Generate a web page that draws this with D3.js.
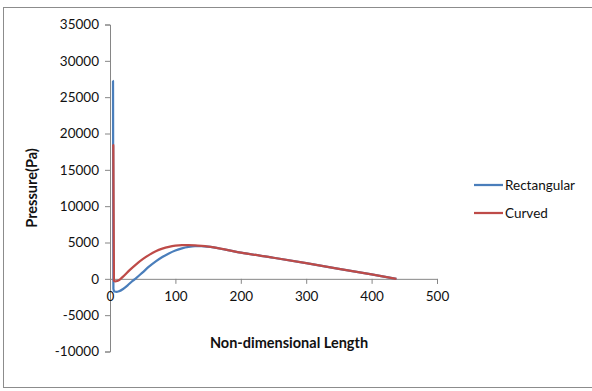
<!DOCTYPE html>
<html>
<head>
<meta charset="utf-8">
<script src="https://cdn.jsdelivr.net/npm/d3@7"></script>
<style>
  body { margin: 0; background: #fff; }
  svg text { font-family: Lato, "Open Sans", sans-serif; fill: #111; }
</style>
</head>
<body>
<div id="chart"></div>
<script>
// data
var seriesNames = ["Rectangular", "Curved"];
var seriesColors = ["#4A7EBB", "#BE4B48"];

var rectX = [4, 4.6, 5.2, 7, 10, 14, 20, 27, 33, 40, 50, 60, 70, 80, 90, 100, 110, 120, 130, 140, 150, 175, 200, 250, 300, 350, 400, 438];
var rectY = [27300, 27200, -1400, -1750, -1800, -1700, -1400, -900, -400, 100, 900, 1700, 2400, 3000, 3500, 3900, 4200, 4400, 4500, 4500, 4420, 4050, 3620, 2900, 2150, 1380, 600, 0];

var curvX = [4.5, 5.1, 6, 8, 11, 15, 20, 30, 40, 50, 60, 70, 80, 90, 100, 110, 120, 130, 140, 150, 175, 200, 250, 300, 350, 400, 438];
var curvY = [18500, 18300, -250, -350, -300, -100, 300, 1200, 2000, 2700, 3300, 3800, 4150, 4400, 4560, 4630, 4640, 4600, 4520, 4420, 4050, 3620, 2900, 2150, 1380, 600, 0];

var xTicks = [0, 100, 200, 300, 400, 500];
var yTicks = [-10000, -5000, 0, 5000, 10000, 15000, 20000, 25000, 30000, 35000];

var width = 592, height = 391;

var svg = d3.select("#chart").append("svg")
    .attr("width", width)
    .attr("height", height);

// outer frame (right side runs off the picture)
svg.append("rect")
    .attr("x", 3.5).attr("y", 7.5)
    .attr("width", 592).attr("height", 380)
    .attr("fill", "#fff")
    .attr("stroke", "#8c8c8c")
    .attr("stroke-width", 1);

var x = d3.scaleLinear().domain([0, 500]).range([110, 437]);
var y = d3.scaleLinear().domain([-10000, 35000]).range([351.5, 24.5]);

// y axis
var yAxis = d3.axisLeft(y).tickValues(yTicks).tickSize(5).tickPadding(6).tickFormat(d => String(d));
var gy = svg.append("g").attr("transform", "translate(110,0)").call(yAxis);
gy.select(".domain").attr("stroke", "#868686");
gy.selectAll(".tick line").attr("stroke", "#868686");
gy.selectAll(".tick text").style("font-size", "13.5px").attr("fill", "#111");

// x axis at y = 0
var xAxis = d3.axisBottom(x).tickValues(xTicks).tickSize(5).tickPadding(8).tickFormat(d => String(d));
var gx = svg.append("g").attr("transform", "translate(0," + y(0) + ")").call(xAxis);
gx.select(".domain").attr("stroke", "#868686");
gx.selectAll(".tick line").attr("stroke", "#868686");
gx.selectAll(".tick text").style("font-size", "13.5px").attr("fill", "#111");

// axis titles
svg.append("text")
    .attr("x", 289).attr("y", 348)
    .attr("text-anchor", "middle")
    .style("font-size", "14.5px").style("font-weight", "bold")
    .text("Non-dimensional Length");

svg.append("text")
    .attr("transform", "translate(37,188) rotate(-90)")
    .attr("text-anchor", "middle")
    .style("font-size", "14.5px").style("font-weight", "bold")
    .text("Pressure(Pa)");

// lines
var line = d3.line()
    .x(d => x(d[0]))
    .y(d => y(d[1]))
    .curve(d3.curveMonotoneX);

var series = [d3.zip(rectX, rectY), d3.zip(curvX, curvY)];

series.forEach(function(pts, i) {
    svg.append("path")
        .datum(pts)
        .attr("fill", "none")
        .attr("stroke", seriesColors[i])
        .attr("stroke-width", 2.25)
        .attr("stroke-linejoin", "round")
        .attr("d", line);
});

// legend
seriesNames.forEach(function(name, i) {
    var ly = 185 + i * 28;
    svg.append("line")
        .attr("x1", 474).attr("x2", 503)
        .attr("y1", ly).attr("y2", ly)
        .attr("stroke", seriesColors[i])
        .attr("stroke-width", 2.25);
    svg.append("text")
        .attr("x", 505).attr("y", ly + 5)
        .style("font-size", "13.5px")
        .text(name);
});
</script>
</body>
</html>
